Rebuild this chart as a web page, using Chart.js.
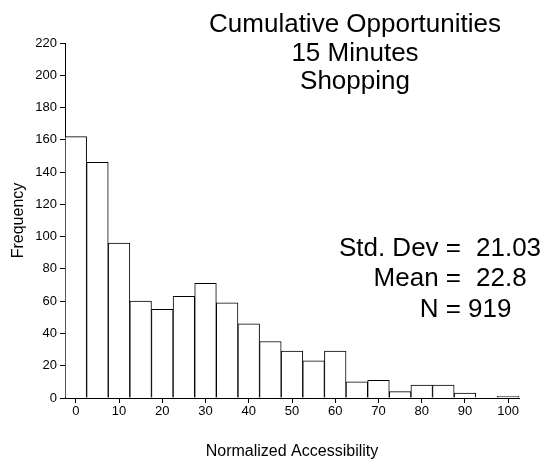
<!DOCTYPE html>
<html>
<head>
<meta charset="utf-8">
<script src="https://cdn.jsdelivr.net/npm/chart.js@4/dist/chart.umd.min.js"></script>
<style>
  html, body { margin: 0; padding: 0; background: #fff; }
  #wrap { width: 544px; height: 463px; }
</style>
</head>
<body>
<div id="wrap"><canvas id="hist"></canvas></div>
<script>
// histogram data
const binCenters = [0, 5, 10, 15, 20, 25, 30, 35, 40, 45, 50, 55, 60, 65, 70, 75, 80, 85, 90, 95, 100];
const frequencies = [162, 146, 96, 60, 55, 63, 71, 59, 46, 35, 29, 23, 29, 10, 11, 4, 8, 8, 3, 0, 1];
const xTicks = [0, 10, 20, 30, 40, 50, 60, 70, 80, 90, 100];
const yTicks = [0, 20, 40, 60, 80, 100, 120, 140, 160, 180, 200, 220];
const titleLines = ['Cumulative Opportunities', '15 Minutes', 'Shopping'];
const statLabels = ['Std. Dev =', 'Mean =', 'N ='];
const statValues = ['21.03', '22.8', '919'];

const FONT = '"Liberation Sans", Arial, sans-serif';

// titre + statistiques dessinés à la main
const textPlugin = {
  id: 'texts',
  afterDraw(chart) {
    const ctx = chart.ctx;
    ctx.save();
    ctx.fillStyle = '#000';
    ctx.font = '26px ' + FONT;
    ctx.textBaseline = 'alphabetic';

    ctx.textAlign = 'center';
    const titleY = [32, 60.5, 89];
    titleLines.forEach((t, i) => ctx.fillText(t, 355, titleY[i]));

    const statY = [256, 286, 316.5];
    const valueX = [476, 476, 468];
    statLabels.forEach((t, i) => {
      ctx.textAlign = 'right';
      ctx.fillText(t, 461, statY[i]);
      ctx.textAlign = 'left';
      ctx.fillText(statValues[i], valueX[i], statY[i]);
    });
    ctx.restore();
  }
};

new Chart(document.getElementById('hist'), {
  type: 'bar',
  data: {
    datasets: [{
      data: binCenters.map((x, i) => ({ x: x, y: frequencies[i] })),
      backgroundColor: '#fff',
      borderColor: '#000',
      borderWidth: 1,
      barPercentage: 1,
      categoryPercentage: 1
    }]
  },
  options: {
    responsive: true,
    maintainAspectRatio: false,
    animation: false,
    layout: { padding: { left: 0, right: 25, top: 43, bottom: 0 } },
    plugins: {
      legend: { display: false },
      tooltip: { enabled: false }
    },
    scales: {
      x: {
        type: 'linear',
        offset: false,
        min: -2.5,
        max: 102.5,
        afterBuildTicks: (scale) => { scale.ticks = xTicks.map(v => ({ value: v })); },
        afterFit: (scale) => { scale.height = 65; },
        grid: { offset: false, drawOnChartArea: false, tickLength: 5, tickColor: '#000' },
        border: { color: '#000', width: 1 },
        ticks: { color: '#000', font: { family: FONT, size: 13 }, padding: 1, maxRotation: 0 },
        title: {
          display: true,
          text: 'Normalized Accessibility',
          color: '#000',
          font: { family: FONT, size: 16 },
          padding: { top: 0, bottom: 2 }
        }
      },
      y: {
        min: 0,
        max: 220,
        afterBuildTicks: (scale) => { scale.ticks = yTicks.map(v => ({ value: v })); },
        afterFit: (scale) => { scale.width = 65; },
        grid: { drawOnChartArea: false, tickLength: 5, tickColor: '#000' },
        border: { color: '#000', width: 1 },
        ticks: { color: '#000', font: { family: FONT, size: 13 }, padding: 3 },
        title: {
          display: true,
          text: 'Frequency',
          color: '#000',
          font: { family: FONT, size: 16 },
          padding: { top: 9, bottom: 0 }
        }
      }
    }
  },
  plugins: [textPlugin]
});
</script>
</body>
</html>
